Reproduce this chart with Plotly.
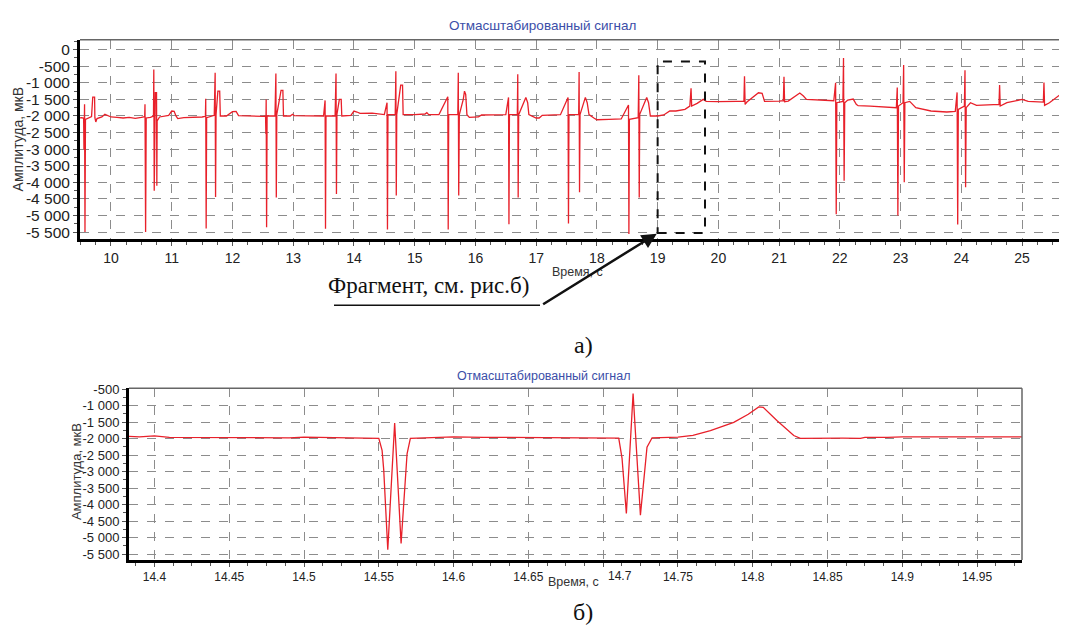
import plotly.graph_objects as go

# ---------------- data: top chart (scaled signal, 9.5 .. 25.7 s) ----------------
top_t = [9.49, 9.52, 9.55, 9.555, 9.565, 9.572, 9.58, 9.60, 9.68, 9.70, 9.73, 9.735, 9.75, 9.77, 9.85, 9.90, 9.93,
         10.0, 10.1, 10.2, 10.3, 10.4, 10.5, 10.555, 10.56, 10.57, 10.58, 10.65, 10.70, 10.705, 10.712, 10.72, 10.73,
         10.75, 10.755, 10.76, 10.80, 10.95, 11.0, 11.04, 11.07, 11.1, 11.2, 11.3, 11.4, 11.5, 11.555, 11.56, 11.567,
         11.575, 11.70, 11.715, 11.722, 11.73, 11.76, 11.79, 11.80, 11.9, 12.0, 12.06, 12.1, 12.2, 12.3, 12.4, 12.5,
         12.545, 12.55, 12.555, 12.562, 12.57, 12.70, 12.715, 12.722, 12.73, 12.80, 12.83, 12.84, 12.95, 12.99, 13.02,
         13.3, 13.5, 13.525, 13.532, 13.54, 13.69, 13.705, 13.712, 13.72, 13.76, 13.79, 13.80, 13.95, 14.0, 14.05,
         14.1, 14.3, 14.5, 14.545, 14.552, 14.56, 14.68, 14.69, 14.697, 14.705, 14.77, 14.80, 14.81, 15.0, 15.17,
         15.2, 15.23, 15.4, 15.545, 15.552, 15.56, 15.71, 15.718, 15.725, 15.735, 15.80, 15.82, 15.84, 15.86, 15.9,
         16.05, 16.1, 16.5, 16.545, 16.552, 16.56, 16.69, 16.697, 16.704, 16.712, 16.80, 16.83, 16.86, 16.88, 17.0,
         17.05, 17.1, 17.4, 17.525, 17.532, 17.54, 17.70, 17.707, 17.714, 17.722, 17.78, 17.81, 17.84, 17.87, 17.95,
         18.0, 18.2, 18.4, 18.52, 18.527, 18.535, 18.68, 18.69, 18.697, 18.705, 18.78, 18.82, 18.85, 18.88, 19.0,
         19.1, 19.2, 19.3, 19.45, 19.5, 19.53, 19.55, 19.56, 19.65, 19.7, 19.75, 19.8, 20.0, 20.3, 20.42, 20.43,
         20.44, 20.47, 20.6, 20.66, 20.72, 20.76, 21.0, 21.07, 21.08, 21.09, 21.15, 21.28, 21.34, 21.40, 21.45, 21.9,
         21.93, 21.94, 21.95, 22.05, 22.06, 22.07, 22.08, 22.13, 22.22, 22.27, 22.3, 22.5, 22.7, 22.93, 22.945,
         22.955, 22.965, 23.04, 23.05, 23.06, 23.07, 23.15, 23.25, 23.5, 23.76, 23.9, 23.93, 23.94, 23.95, 24.05,
         24.06, 24.07, 24.08, 24.15, 24.25, 24.5, 24.62, 24.63, 24.64, 24.75, 25.0, 25.1, 25.35, 25.36, 25.37, 25.45,
         25.58, 25.63, 25.69]
top_v = [-2060, -2050, -2070, -3000, -1650, -5500, -2100, -2080, -2020, -1430, -1430, -2050, -2180, -2080, -2030,
         -1950, -1970, -2030, -2040, -2060, -2040, -2070, -2040, -2020, -1650, -5500, -2060, -2040, -2000, -600,
         -4250, -1900, -1300, -1300, -4100, -2150, -2030, -1980, -1850, -1860, -2000, -2080, -2050, -2040, -2050,
         -2030, -2010, -1480, -5390, -2050, -1980, -700, -4440, -1950, -1250, -1250, -2000, -2000, -1870, -1860,
         -1990, -2000, -2010, -2000, -2010, -2000, -2540, -1500, -5350, -2000, -2000, -720, -4460, -1950, -1230,
         -1230, -2000, -2000, -1950, -1990, -2000, -2000, -1530, -5400, -2000, -2000, -720, -4350, -1950, -1500,
         -1500, -2000, -1980, -1850, -1880, -1920, -1915, -1960, -1600, -5420, -1960, -1950, -655, -4400, -1950,
         -1070, -1070, -1960, -1960, -1940, -1900, -1960, -1960, -1420, -5420, -1960, -1960, -700, -4400, -1960,
         -1500, -1250, -1350, -1960, -2040, -2030, -1970, -1960, -1440, -5260, -1960, -1960, -745, -4460, -1960,
         -1600, -1440, -1600, -1960, -2060, -2060, -1980, -1960, -1440, -5240, -1960, -1960, -675, -4300, -1960,
         -1600, -1440, -1600, -1960, -2060, -2113, -2100, -2090, -1670, -5560, -2100, -2050, -770, -4460, -1950,
         -1600, -1440, -1600, -2000, -2000, -1970, -1850, -1850, -1800, -1750, -1700, -1165, -1700, -1620, -1560,
         -1500, -1560, -1570, -1560, -1560, -800, -1650, -1580, -1400, -1300, -1320, -1560, -1550, -1540, -820,
         -1570, -1550, -1380, -1310, -1400, -1500, -1540, -1000, -4960, -1600, -1560, -250, -3950, -1600, -1520,
         -1490, -1650, -1690, -1700, -1720, -1750, -1140, -5000, -1700, -1600, -460, -4000, -1600, -1560, -1750,
         -1850, -1880, -1860, -1290, -5270, -1800, -1700, -620, -4150, -1750, -1600, -1680, -1650, -1650, -1070,
         -1700, -1600, -1500, -1560, -1580, -990, -1680, -1600, -1400, -1350, -1450]

top_xticks = [10, 11, 12, 13, 14, 15, 16, 17, 18, 19, 20, 21, 22, 23, 24, 25]
top_yticks = [0, -500, -1000, -1500, -2000, -2500, -3000, -3500, -4000, -4500, -5000, -5500]
top_ylabels = ["0", "-500", "-1 000", "-1 500", "-2 000", "-2 500", "-3 000", "-3 500",
               "-4 000", "-4 500", "-5 000", "-5 500"]

# fragment box (data coords)
frag_t = [19.0, 19.78]
frag_v = [-5530, -360]

# ---------------- data: bottom chart (fragment 14.38 .. 14.98 s) ----------------
bot_t = [14.383, 14.39, 14.395, 14.40, 14.41, 14.43, 14.44, 14.45, 14.47, 14.48, 14.49, 14.50, 14.52, 14.53,
         14.545, 14.550, 14.5522, 14.5533, 14.556, 14.5606, 14.5649, 14.5678, 14.5689, 14.5711, 14.58, 14.60,
         14.62, 14.65, 14.66, 14.68, 14.70, 14.7104, 14.7126, 14.7155, 14.72, 14.7249, 14.7293, 14.7327, 14.75,
         14.76, 14.7717, 14.7873, 14.797, 14.8006, 14.804, 14.807, 14.8163, 14.8274, 14.8318, 14.86, 14.87,
         14.872, 14.875, 14.89, 14.90, 14.92, 14.94, 14.945, 14.95, 14.98]
bot_v = [-1930, -1950, -1930, -1920, -1960, -1965, -1970, -1960, -1970, -1960, -1975, -1955, -1960, -1965,
         -1975, -1990, -2356, -2955, -5370, -1530, -5180, -2955, -2460, -1990, -1975, -1950,
         -1960, -1975, -1960, -1980, -1980, -1985, -2590, -4270, -630, -4320, -2260, -1975, -1958,
         -1900, -1757, -1509, -1260, -1159, -1040, -1050, -1458, -1907, -1990, -1985, -1975,
         -1990, -1960, -1965, -1945, -1950, -1950, -1965, -1950, -1950]

bot_xticks = [14.4, 14.45, 14.5, 14.55, 14.6, 14.65, 14.7, 14.75, 14.8, 14.85, 14.9, 14.95]
bot_xlabels = ["14.4", "14.45", "14.5", "14.55", "14.6", "14.65", "", "14.75", "14.8", "14.85", "14.9", "14.95"]
shifted_label = "14.7"   # drawn a little to the right of its tick, clear of the axis title
bot_yticks = [-500, -1000, -1500, -2000, -2500, -3000, -3500, -4000, -4500, -5000, -5500]
bot_ylabels = ["-500", "-1 000", "-1 500", "-2 000", "-2 500", "-3 000", "-3 500", "-4 000",
               "-4 500", "-5 000", "-5 500"]

W, H = 1067, 627
OFF = 8  # the page body adds an 8px margin; positions below are page pixels
RED = "#e8202a"
BLUE = "#3b4ea8"
TXT = "#222222"
GRID = "#8c8c8c"

def px(x):
    return (x - OFF) / W

def py(y):
    return 1 - (y - OFF) / H

fig = go.Figure()
fig.add_trace(go.Scatter(x=top_t, y=top_v, mode="lines", line=dict(color=RED, width=1.3),
                         xaxis="x", yaxis="y", showlegend=False, hoverinfo="skip"))
fig.add_trace(go.Scatter(x=bot_t, y=bot_v, mode="lines", line=dict(color=RED, width=1.3),
                         xaxis="x2", yaxis="y2", showlegend=False, hoverinfo="skip"))

common = dict(showline=True, linecolor="black", linewidth=3, ticks="outside", ticklen=4,
              tickcolor="#555", showgrid=True, gridcolor=GRID, griddash="dash", gridwidth=1,
              zeroline=False, tickfont=dict(family="Liberation Sans, Arial", color=TXT))

fig.update_layout(
    width=W, height=H, margin=dict(l=0, r=0, t=0, b=0),
    paper_bgcolor="white", plot_bgcolor="white",
    xaxis=dict(**common, domain=[px(80), px(1064)], range=[9.49, 25.69], anchor="y",
               tickvals=top_xticks, tickfont_size=14,
               minor=dict(ticks="outside", ticklen=3, dtick=0.25, tick0=0, tickcolor="#555", showgrid=False)),
    yaxis=dict(**common, domain=[py(236), py(34)], range=[-5710, 300], anchor="x",
               tickvals=top_yticks, ticktext=top_ylabels, tickfont_size=15.5,
               minor=dict(ticks="outside", ticklen=3, dtick=250, tick0=0, tickcolor="#555", showgrid=False)),
    xaxis2=dict(**common, domain=[px(129), px(1022)], range=[14.383, 14.980], anchor="y2",
                tickvals=bot_xticks, ticktext=bot_xlabels, tickfont_size=12,
                minor=dict(ticks="outside", ticklen=3, dtick=0.0125, tick0=14.4, tickcolor="#555", showgrid=False)),
    yaxis2=dict(**common, domain=[py(561), py(387)], range=[-5680, -470], anchor="x2",
                tickvals=bot_yticks, ticktext=bot_ylabels, tickfont_size=13,
                minor=dict(ticks="outside", ticklen=3, dtick=250, tick0=0, tickcolor="#555", showgrid=False)),
)

shapes = []
# gray top / right borders
for xr, yr in (("x", "y"), ("x2", "y2")):
    shapes.append(dict(type="line", xref=f"{xr} domain", yref=f"{yr} domain", x0=0, x1=1, y0=1, y1=1,
                       line=dict(color="#666", width=1.5)))
    shapes.append(dict(type="line", xref=f"{xr} domain", yref=f"{yr} domain", x0=1, x1=1, y0=0, y1=1,
                       line=dict(color="#666", width=1.5)))
# dashed fragment box
shapes.append(dict(type="rect", xref="x", yref="y", x0=frag_t[0], x1=frag_t[1], y0=frag_v[0], y1=frag_v[1],
                   line=dict(color="#111", width=2, dash="dash")))
# underline of the callout
shapes.append(dict(type="line", xref="paper", yref="paper", x0=px(334), x1=px(540), y0=py(303), y1=py(303),
                   line=dict(color="#111", width=1.5)))
fig.update_layout(shapes=shapes)

ann = []
def label(text, x, y, size, color=TXT, family="Liberation Sans, Arial", angle=0):
    ann.append(dict(text=text, x=px(x), y=py(y), xref="paper", yref="paper", showarrow=False,
                    font=dict(size=size, color=color, family=family), textangle=angle,
                    xanchor="center", yanchor="middle"))

label("Отмасштабированный сигнал", 542, 20, 13.5, BLUE)
label("Амплитуда, мкВ", 18, 135, 14, "#333", angle=-90)
label("Время, с", 577, 269, 12.5, "#333")
label("Фрагмент, см. рис.б)", 428, 283, 23, "#111", family="Liberation Serif, Times New Roman")
label("а)", 583, 343, 24, "#111", family="Liberation Serif, Times New Roman")
label("Отмасштабированный сигнал", 544, 375, 12.5, BLUE)
label("Амплитуда, мкВ", 76, 472, 13, "#333", angle=-90)
label("Время, с", 573, 583, 12.5, "#333")
label("б)", 583, 614, 24, "#111", family="Liberation Serif, Times New Roman")

# the 14.7 tick label, offset to the right as in the original
ann.append(dict(text=shifted_label, x=bot_xticks[6], xref="x2", y=0, yref="y2 domain", xshift=17, yshift=-7,
                showarrow=False, xanchor="center", yanchor="top",
                font=dict(size=12, color=TXT, family="Liberation Sans, Arial")))

# arrow from the callout to the fragment box corner
ann.append(dict(text="", x=frag_t[0], y=frag_v[0], xref="x", yref="y", showarrow=True,
                ax=-116, ay=72, axref="pixel", ayref="pixel",
                arrowhead=2, arrowsize=1.2, arrowwidth=2.5, arrowcolor="#111", standoff=1))
fig.update_layout(annotations=ann)

fig.write_html("out.html")
